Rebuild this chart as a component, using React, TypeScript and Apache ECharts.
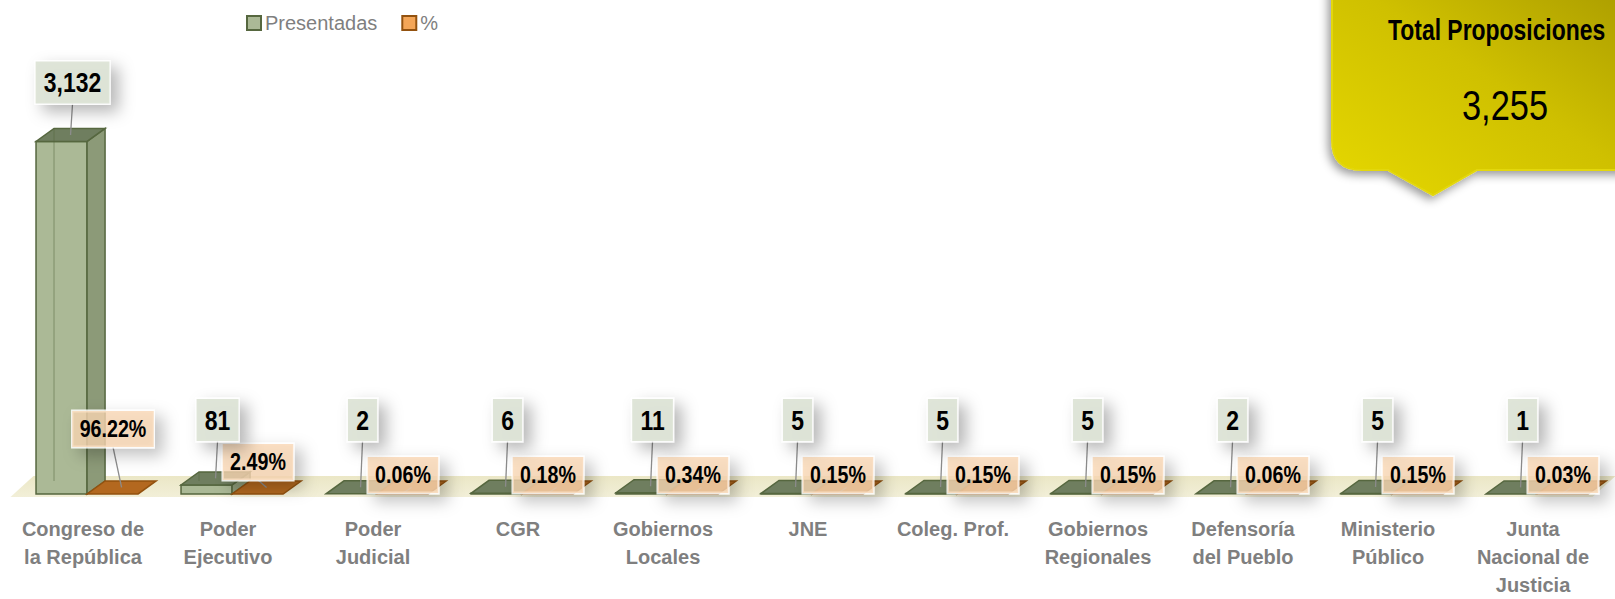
import React, { useEffect, useRef } from 'react';
import * as echarts from 'echarts';

const categories = [
  'Congreso de\nla República',
  'Poder\nEjecutivo',
  'Poder\nJudicial',
  'CGR',
  'Gobiernos\nLocales',
  'JNE',
  'Coleg. Prof.',
  'Gobiernos\nRegionales',
  'Defensoría\ndel Pueblo',
  'Ministerio\nPúblico',
  'Junta\nNacional de\nJusticia',
];
const presentadas = [3132, 81, 2, 6, 11, 5, 5, 5, 2, 5, 1];
// share of total (plotted on the same axis, shown as %)
const porcentaje = [0.9622, 0.0249, 0.0006, 0.0018, 0.0034, 0.0015, 0.0015, 0.0015, 0.0006, 0.0015, 0.0003];
const totalLabel = 'Total Proposiciones';
const totalValue = 3255;
const seriesNames = ['Presentadas', '%'];
const yMax = 3500;

const FONT = "'Liberation Sans Narrow', 'Arial Narrow', 'Liberation Sans', Arial, sans-serif";
const NARROW_SCALE = 0.82;

const PAL = {
  green: { front: '#abb996', side: '#8c9a78', top: '#6f7e5f', edge: '#56673f', ghost: 'rgba(86,103,63,0.35)' },
  orange: { front: '#f4a658', side: '#c77a2a', top: '#b3681f', edge: '#93520f', ghost: 'rgba(147,82,15,0.35)' },
};

const DX = 18;
const DY = 13;

function makeBarRender(kind: 'green' | 'orange') {
  return (params: any, api: any) => {
    const idx = api.value(0);
    const val = api.value(1);
    const base = api.coord([idx, 0]);
    const top = api.coord([idx, val]);
    const band = api.size([1, 0])[0];
    const w = band * 0.352;
    const left = base[0] + band * (kind === 'green' ? -0.324 : 0.028);
    const right = left + w;
    const yb = base[1];
    const yt = top[1];
    const p = PAL[kind];
    const children: any[] = [];
    if (yb - yt > 0.5) {
      children.push({
        type: 'rect',
        shape: { x: left, y: yt, width: w, height: yb - yt },
        style: { fill: p.front, stroke: p.edge, lineWidth: 1.5 },
        z2: 1,
      });
      children.push({
        type: 'polygon',
        shape: { points: [[right, yt], [right + DX, yt - DY], [right + DX, yb - DY], [right, yb]] },
        style: { fill: p.side, stroke: p.edge, lineWidth: 1.5 },
        z2: 1,
      });
      children.push({
        type: 'line',
        shape: { x1: left + DX, y1: yt - DY, x2: left + DX, y2: yb - DY },
        style: { stroke: p.ghost, lineWidth: 1.5 },
        z2: 2,
      });
    }
    children.push({
      type: 'polygon',
      shape: { points: [[left, yt], [right, yt], [right + DX, yt - DY], [left + DX, yt - DY]] },
      style: { fill: p.top, stroke: p.edge, lineWidth: 1.5 },
      z2: 1,
    });

    const tcx = left + w / 2 + DX / 2;
    const tcy = yt - DY / 2;
    let lx: number, ly: number, half: number, text: string, font: string, bg: string, pad: number[];
    if (kind === 'green') {
      lx = tcx + 2;
      ly = Math.min(yt - DY - 46, 420);
      half = 21;
      text = Number(val).toLocaleString('en-US');
      font = `bold 28px ${FONT}`;
      bg = 'rgba(221,227,214,0.94)';
      pad = [7, 10, 7, 10];
    } else {
      const lift = val >= 0.5 ? 46 : val >= 0.01 ? 13 : 0;
      lx = base[0] + 30;
      ly = 475 - lift;
      half = 18;
      text = (val * 100).toFixed(2) + '%';
      font = `bold 24px ${FONT}`;
      bg = 'rgba(249,214,178,0.78)';
      pad = [6, 9, 6, 9];
    }
    children.push({
      type: 'line',
      shape: { x1: lx, y1: ly + half, x2: tcx, y2: tcy },
      style: { stroke: '#8c8c8c', lineWidth: 1.3 },
      z2: 20,
    });
    children.push({
      type: 'text',
      x: lx,
      y: ly,
      scaleX: NARROW_SCALE,
      style: {
        text,
        font,
        fill: '#000000',
        align: 'center',
        verticalAlign: 'middle',
        backgroundColor: bg,
        borderColor: 'rgba(255,255,255,0.85)',
        borderWidth: 1.5,
        padding: pad,
        shadowBlur: 16,
        shadowColor: 'rgba(0,0,0,0.3)',
        shadowOffsetX: 8,
        shadowOffsetY: 7,
      },
      z2: kind === 'green' ? 40 : 30,
    });
    return { type: 'group', children };
  };
}

function floorRender(params: any, api: any) {
  const cs = params.coordSys;
  const front = cs.y + cs.height + 3;
  const back = front - 21;
  const l = cs.x;
  const r = cs.x + cs.width;
  return {
    type: 'polygon',
    shape: { points: [[l, front], [r - 13, front], [r + 10, back], [l + 23, back]] },
    style: {
      fill: new echarts.graphic.LinearGradient(0, 0, 0, 1, [
        { offset: 0, color: '#ebe7c6' },
        { offset: 1, color: '#f2efd8' },
      ]),
    },
    z2: 0,
  };
}

const calloutPath = 'M1332,-30 L1660,-30 L1660,170 L1477,170 L1433,195 L1388,170 L1362,170 Q1332,170 1332,140 Z';
let registered = false;

export default function App() {
  const ref = useRef<HTMLDivElement>(null);
  useEffect(() => {
    if (!registered) {
      echarts.graphic.registerShape('callout', echarts.graphic.extendPath(calloutPath, {}) as any);
      registered = true;
    }
    const chart = echarts.init(ref.current!, undefined, { renderer: 'svg' });
    chart.setOption({
      animation: false,
      backgroundColor: '#ffffff',
      grid: { left: 10.5, right: 9.5, top: 100, bottom: 98 },
      legend: {
        left: 241,
        top: 8,
        itemWidth: 14,
        itemHeight: 14,
        itemGap: 24,
        icon: 'rect',
        textStyle: { fontSize: 20, color: '#7f7f7f', fontFamily: FONT, padding: [0, 0, 0, -1] },
        data: [
          { name: seriesNames[0], itemStyle: { color: PAL.green.front, borderColor: PAL.green.edge, borderWidth: 2 } },
          { name: seriesNames[1], itemStyle: { color: PAL.orange.front, borderColor: PAL.orange.edge, borderWidth: 2 } },
        ],
      },
      xAxis: {
        type: 'category',
        data: categories,
        axisLine: { show: false },
        axisTick: { show: false },
        axisLabel: {
          interval: 0,
          margin: 21,
          fontSize: 20,
          fontWeight: 'bold',
          color: '#7f7f7f',
          lineHeight: 28,
          fontFamily: FONT,
        },
      },
      yAxis: {
        type: 'value',
        min: 0,
        max: yMax,
        show: false,
        splitLine: { show: false },
      },
      series: [
        {
          type: 'custom',
          silent: true,
          z: 1,
          data: [[0, 0]],
          encode: { x: 0, y: 1 },
          renderItem: floorRender,
        },
        {
          name: seriesNames[0],
          type: 'custom',
          z: 2,
          data: presentadas.map((v, i) => [i, v]),
          encode: { x: 0, y: 1 },
          itemStyle: { color: PAL.green.front, borderColor: PAL.green.edge },
          renderItem: makeBarRender('green'),
        },
        {
          name: seriesNames[1],
          type: 'custom',
          z: 2,
          data: porcentaje.map((v, i) => [i, v]),
          encode: { x: 0, y: 1 },
          itemStyle: { color: PAL.orange.front, borderColor: PAL.orange.edge },
          renderItem: makeBarRender('orange'),
        },
      ],
      graphic: [
        {
          type: 'callout',
          x: 0,
          y: 0,
          z: 10,
          style: {
            fill: new echarts.graphic.LinearGradient(0, 1, 1, 0, [
              { offset: 0, color: '#e6d800' },
              { offset: 0.5, color: '#cfc000' },
              { offset: 1, color: '#a39500' },
            ]),
            stroke: '#e3d70a',
            lineWidth: 2,
            shadowBlur: 10,
            shadowColor: 'rgba(0,0,0,0.4)',
            shadowOffsetX: -3,
            shadowOffsetY: 4,
          },
        },
        {
          type: 'text',
          x: 1388,
          y: 30,
          z: 11,
          scaleX: 0.79,
          style: {
            text: totalLabel,
            font: `bold 29px ${FONT}`,
            fill: '#000000',
            align: 'left',
            verticalAlign: 'middle',
          },
        },
        {
          type: 'text',
          x: 1505,
          y: 105,
          z: 11,
          scaleX: NARROW_SCALE,
          style: {
            text: totalValue.toLocaleString('en-US'),
            font: `42px ${FONT}`,
            fill: '#000000',
            align: 'center',
            verticalAlign: 'middle',
          },
        },
      ],
    });
    return () => chart.dispose();
  }, []);
  return <div ref={ref} style={{ position: 'fixed', left: 0, top: 0, width: 1615, height: 599 }} />;
}
